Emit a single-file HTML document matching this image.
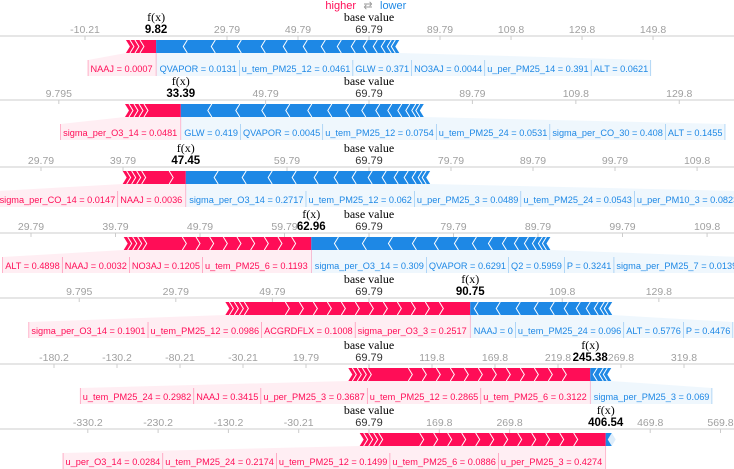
<!DOCTYPE html>
<html><head><meta charset="utf-8">
<style>
html,body{margin:0;padding:0;background:#fff;}
svg{display:block;}
text{font-family:"Liberation Sans",sans-serif;}
</style></head>
<body>
<svg id="chart" width="734" height="469" viewBox="0 0 734 469" xmlns="http://www.w3.org/2000/svg">
  <g>
    <text x="356" y="9" text-anchor="end" font-size="11" fill="#ff0d57">higher</text>
    <text x="368" y="9" text-anchor="middle" font-size="11" fill="#999">⇄</text>
    <text x="380" y="9" font-size="11" fill="#1e88e5">lower</text>
  </g>
</svg>
<script>
const RED = "#ff0d57", BLUE = "#1e88e5";
const baseValue = 69.79;
const basePx = 369;
const axisY = [36, 100, 167, 233, 298, 364, 429];
const pxPerUnit = [3.55, 5.17, 8.2, 8.45, 4.83, 1.26, 0.703];
const fxValues = [9.82, 33.39, 47.45, 62.96, 90.75, 245.38, 406.54];
const redSums = [8.5, 10.8, 7.7, 22.2, 50.7, 192, 350];
const blueSums = [68.5, 47, 29.8, 28.3, 29.4, 16.7, 8.5];
const tickLabels = [
  ["-10.21","29.79","49.79","89.79","109.8","129.8","149.8"],
  ["9.795","49.79","89.79","109.8","129.8"],
  ["29.79","39.79","59.79","79.79","89.79","99.79","109.8"],
  ["29.79","39.79","49.79","59.79","79.79","89.79","99.79","109.8"],
  ["9.795","29.79","49.79","109.8","129.8"],
  ["-180.2","-130.2","-80.21","-30.21","19.79","119.8","169.8","219.8","269.8","319.8"],
  ["-330.2","-230.2","-130.2","-30.21","169.8","269.8","469.8","569.8"]
];
const redLabels = [
  ["NAAJ = 0.0007"],
  ["sigma_per_O3_14 = 0.0481"],
  ["sigma_per_CO_14 = 0.0147","NAAJ = 0.0036"],
  ["ALT = 0.4898","NAAJ = 0.0032","NO3AJ = 0.1205","u_tem_PM25_6 = 0.1193"],
  ["sigma_per_O3_14 = 0.1901","u_tem_PM25_12 = 0.0986","ACGRDFLX = 0.1008","sigma_per_O3_3 = 0.2517"],
  ["u_tem_PM25_24 = 0.2982","NAAJ = 0.3415","u_per_PM25_3 = 0.3687","u_tem_PM25_12 = 0.2865","u_tem_PM25_6 = 0.3122"],
  ["u_per_O3_14 = 0.0284","u_tem_PM25_24 = 0.2174","u_tem_PM25_12 = 0.1499","u_tem_PM25_6 = 0.0886","u_per_PM25_3 = 0.4274"]
];
const blueLabels = [
  ["QVAPOR = 0.0131","u_tem_PM25_12 = 0.0461","GLW = 0.371","NO3AJ = 0.0044","u_per_PM25_14 = 0.391","ALT = 0.0621"],
  ["GLW = 0.419","QVAPOR = 0.0045","u_tem_PM25_12 = 0.0754","u_tem_PM25_24 = 0.0531","sigma_per_CO_30 = 0.408","ALT = 0.1455"],
  ["sigma_per_O3_14 = 0.2717","u_tem_PM25_12 = 0.062","u_per_PM25_3 = 0.0489","u_tem_PM25_24 = 0.0543","u_per_PM10_3 = 0.0823"],
  ["sigma_per_O3_14 = 0.309","QVAPOR = 0.6291","Q2 = 0.5959","P = 0.3241","sigma_per_PM25_7 = 0.0139"],
  ["NAAJ = 0","u_tem_PM25_24 = 0.096","ALT = 0.5776","P = 0.4476"],
  ["sigma_per_PM25_3 = 0.069"],
  []
];

const NS = "http://www.w3.org/2000/svg";
const svg = document.getElementById("chart");
function mk(tag, attrs, parent) {
  const e = document.createElementNS(NS, tag);
  for (const k in attrs) e.setAttribute(k, attrs[k]);
  (parent || svg).appendChild(e);
  return e;
}
const LFS = 9.2, PAD = 2.5;

for (let p = 0; p < axisY.length; p++) {
  const ay = axisY[p];
  const s = pxPerUnit[p];
  const X = v => basePx + (v - baseValue) * s;
  const g = mk("g", {});
  
  

  const axis = mk("line", {x1: 0, x2: 734, y1: ay, y2: ay, stroke: "#ccc", "stroke-width": 1}, g);
  
  

  tickLabels[p].forEach(t => {
    const x = X(parseFloat(t));
    const tk = mk("line", {x1: x, x2: x, y1: ay, y2: ay + 4, stroke: "#ccc"}, g);
    
    
    const tl = mk("text", {x: x, y: ay - 3, "text-anchor": "middle", "font-size": 10.5, fill: "#a0a0a0"}, g);
    
    
    tl.textContent = t;
  });
  const bt = mk("line", {x1: basePx, x2: basePx, y1: ay, y2: ay + 4, stroke: "#ccc"}, g);
  
  

  const bl = mk("text", {x: basePx, y: ay - 15, "text-anchor": "middle", "font-size": 12, fill: "#000", style: "font-family:'Liberation Serif',serif"}, g);
  
  
  bl.textContent = "base value";
  const bv = mk("text", {x: basePx, y: ay - 3, "text-anchor": "middle", "font-size": 11, fill: "#333"}, g);
  
  
  bv.textContent = baseValue.toFixed(2);

  const fx = X(fxValues[p]);
  const ft = mk("text", {x: fx, y: ay - 15, "text-anchor": "middle", "font-size": 12, fill: "#000", style: "font-family:'Liberation Serif',serif"}, g);
  
  
  ft.textContent = "f(x)";
  const fv = mk("text", {x: fx, y: ay - 3, "text-anchor": "middle", "font-size": 11.5, "font-weight": "bold", fill: "#000"}, g);
  
  
  fv.textContent = fxValues[p].toFixed(2);

  const top = ay + 4, bot = ay + 17, mid = (top + bot) / 2, ch = 4;
  const rs = X(fxValues[p] - redSums[p]);
  const be = X(fxValues[p] + blueSums[p]);
  const ly = ay + 24, lh = 16;

  const labs = [];
  let cx = fx - 1;
  for (let i = redLabels[p].length - 1; i >= 0; i--) {
    const t = mk("text", {y: ay + 36, "text-anchor": "end", "font-size": LFS, fill: RED}, g);
    
    
    t.textContent = redLabels[p][i];
    t.setAttribute("x", cx - PAD);
    const w = t.getComputedTextLength();
    labs.push({side: 0, x0: cx - w - 2 * PAD, x1: cx});
    cx -= w + 2 * PAD;
  }
  const redLeft = cx;
  cx = fx + 1;
  blueLabels[p].forEach(lbl => {
    const t = mk("text", {y: ay + 36, "font-size": LFS, fill: BLUE}, g);
    
    
    t.textContent = lbl;
    t.setAttribute("x", cx + PAD);
    const w = t.getComputedTextLength();
    labs.push({side: 1, x0: cx, x1: cx + w + 2 * PAD});
    cx += w + 2 * PAD;
  });
  const blueRight = cx;

  if (redLabels[p].length) {
    const c = mk("polygon", {points: `${rs},${bot} ${fx},${bot} ${fx},${ly + lh} ${redLeft},${ly + lh} ${redLeft},${ly}`, fill: RED, opacity: 0.07}, g);
    
    
    g.insertBefore(c, g.firstChild);
  }
  if (blueLabels[p].length) {
    const c = mk("polygon", {points: `${fx},${bot} ${be},${bot} ${blueRight},${ly} ${blueRight},${ly + lh} ${fx},${ly + lh}`, fill: BLUE, opacity: 0.07}, g);
    
    
    g.insertBefore(c, g.firstChild);
  } else {
    const c = mk("polygon", {points: `${fx},${bot} ${be},${bot} ${be + 4},${mid} ${be},${top} ${fx},${top}`, fill: BLUE, opacity: 0.15}, g);
    
    
  }
  labs.forEach(l => {
    const xx = l.side === 0 ? l.x0 : l.x1;
    const sep = mk("line", {x1: xx, x2: xx, y1: ly, y2: ly + lh, stroke: l.side === 0 ? RED : BLUE, "stroke-width": 0.6, opacity: 0.5}, g);
    
    
  });
  const fl = mk("line", {x1: fx, x2: fx, y1: bot, y2: ly + lh, stroke: RED, "stroke-width": 0.6, opacity: 0.4}, g);
  
  

  const rb = mk("polygon", {points: `${rs},${top} ${fx},${top} ${fx},${bot} ${rs},${bot} ${rs + ch},${mid}`, fill: RED}, g);
  
  
  const bb = mk("polygon", {points: `${fx},${top} ${be},${top} ${be - ch},${mid} ${be},${bot} ${fx},${bot}`, fill: BLUE}, g);
  
  
  const rw = fx - rs, bw = be - fx;
  const nr = Math.max(3, Math.min(16, Math.round(rw / 14)));
  for (let i = 0; i < nr; i++) {
    const x = rs + 4 + i * Math.min(i < 4 ? 5 : 14, (rw - 10) / nr);
    if (x > fx - 6) break;
    const c = mk("polyline", {points: `${x},${top} ${x + ch},${mid} ${x},${bot}`, fill: "none", stroke: "#fff", "stroke-width": 1}, g);
    
    
  }
  const nb = Math.max(3, Math.min(18, Math.round(bw / 12)));
  let x = be - 4;
  for (let i = 0; i < nb; i++) {
    if (x < fx + 6) break;
    const c = mk("polyline", {points: `${x},${top} ${x - ch},${mid} ${x},${bot}`, fill: "none", stroke: "#fff", "stroke-width": 1}, g);
    
    
    x -= 4 + i * 2;
  }
}
</script>
</body></html>
